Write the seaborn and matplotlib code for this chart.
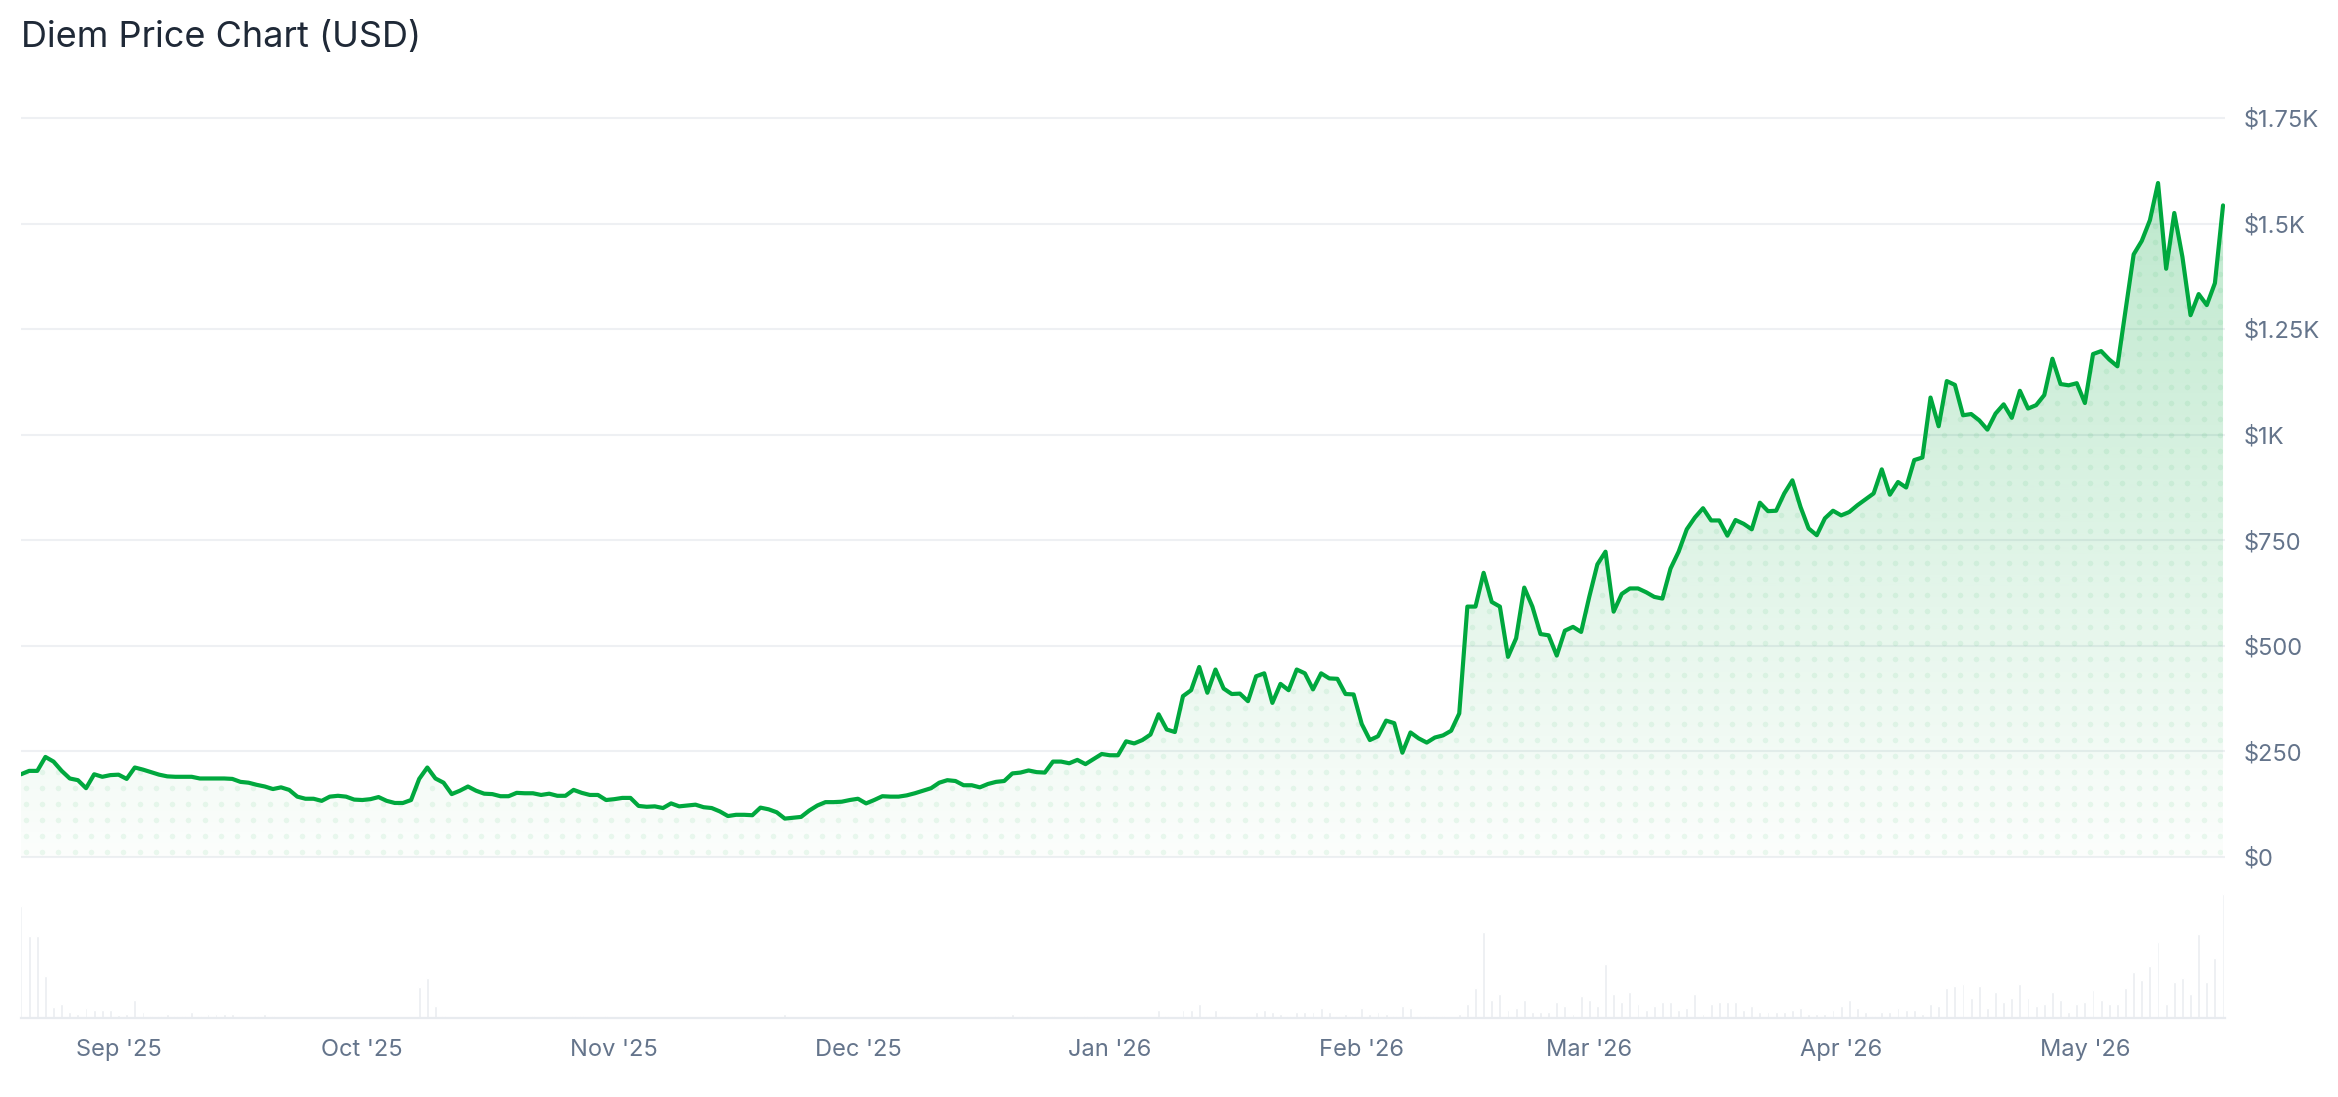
import numpy as np
import pandas as pd
import matplotlib
matplotlib.use("Agg")
import matplotlib.pyplot as plt
import matplotlib.dates as mdates
from matplotlib.colors import to_rgb
from matplotlib.ticker import FuncFormatter
import seaborn as sns

# daily data, starting 20 Aug 2025
start_date = "2025-08-20"

price_aug = [196, 204, 204, 237, 226, 204, 186, 182, 163, 196, 190, 194]
price_sep = [195, 185, 212, 207, 201, 195, 191, 190, 190, 190, 186, 186, 186, 186, 185,
             178, 176, 171, 167, 161, 165, 159, 143, 138, 138, 133, 143, 145, 143, 136]
price_oct = [135, 137, 142, 133, 128, 128, 135, 185, 212, 186, 176, 149, 157, 167, 157, 150,
             149, 144, 144, 152, 151, 151, 147, 150, 145, 145, 159, 152, 147, 147, 135]
price_nov = [137, 140, 140, 121, 119, 120, 116, 127, 120, 122, 124, 118, 116, 108, 97,
             100, 100, 99, 117, 113, 106, 91, 93, 95, 110, 122, 130, 130, 131, 135]
price_dec = [138, 127, 135, 144, 143, 143, 146, 151, 157, 163, 176, 182, 180, 170, 170, 165,
             173, 178, 180, 198, 200, 205, 201, 200, 226, 226, 222, 230, 220, 232, 244]
price_jan = [241, 241, 274, 269, 277, 290, 338, 302, 296, 381, 395, 450, 389, 444, 399, 386,
             387, 369, 428, 435, 365, 410, 395, 444, 435, 397, 435, 423, 422, 386, 385]
price_feb = [315, 277, 286, 323, 317, 247, 295, 281, 271, 283, 288, 299, 340, 593,
             593, 673, 604, 593, 474, 518, 638, 593, 528, 525, 477, 536, 545, 533]
price_mar = [616, 693, 723, 581, 623, 636, 636, 627, 616, 612, 683, 723, 776, 804, 826, 797,
             797, 761, 798, 789, 776, 839, 819, 820, 861, 892, 829, 778, 762, 802, 820]
price_apr = [809, 817, 833, 847, 861, 918, 858, 888, 875, 940, 946, 1088, 1020, 1127, 1118,
             1046, 1049, 1034, 1012, 1050, 1072, 1040, 1104, 1062, 1070, 1094, 1180, 1120, 1117, 1122]
price_may = [1075, 1191, 1198, 1178, 1162, 1295, 1427, 1459, 1508, 1596, 1393, 1525, 1421,
             1283, 1333, 1307, 1359, 1543]

vol_aug = [112, 82, 82, 42, 11, 14, 6, 4, 10, 8, 8, 8]
vol_sep = [3, 4, 18, 6, 2, 2, 4, 2, 2, 6, 2, 4, 4, 4, 4, 2, 0, 2, 4, 2, 0, 0, 0, 0, 0, 0, 0, 0, 0, 0]
vol_oct = [0, 0, 0, 0, 0, 0, 0, 31, 40, 12, 2, 0, 0, 0, 0, 0, 0, 0, 0, 0, 0, 2, 0, 0, 2, 0, 2, 2, 0, 0, 2]
vol_nov = [0] * 21 + [4] + [0] * 8
vol_dec = [0] * 17 + [2, 0, 4, 2, 2, 0, 0, 2, 0, 0, 0, 2, 0, 0]
vol_jan = [0, 0, 0, 0, 0, 0, 8, 2, 0, 8, 8, 14, 2, 8, 2, 2, 0, 2, 6, 8, 6, 4, 2, 6, 6, 6, 10, 6, 2, 4, 2]
vol_feb = [10, 4, 6, 4, 2, 12, 10, 2, 2, 2, 2, 0, 4, 14, 30, 86, 18, 24, 8, 10, 18, 6, 6, 6, 16, 12, 4, 22]
vol_mar = [18, 12, 54, 24, 16, 26, 14, 8, 12, 16, 16, 8, 10, 24, 4, 14, 16, 16, 16, 8,
           12, 6, 6, 6, 6, 8, 10, 4, 4, 4, 8]
vol_apr = [12, 18, 10, 6, 2, 6, 6, 10, 8, 8, 4, 14, 12, 30, 32, 34, 20, 32, 10, 26,
           16, 20, 34, 20, 12, 14, 26, 18, 6, 14]
vol_may = [16, 28, 18, 14, 14, 30, 46, 38, 52, 76, 14, 36, 40, 24, 84, 36, 60, 124]

price = (price_aug + price_sep + price_oct + price_nov + price_dec + price_jan
         + price_feb + price_mar + price_apr + price_may)
volume = (vol_aug + vol_sep + vol_oct + vol_nov + vol_dec + vol_jan
          + vol_feb + vol_mar + vol_apr + vol_may)
dates = pd.date_range(start_date, periods=len(price), freq="D")
df = pd.DataFrame({"date": dates, "price": price, "volume": volume})

price_ticks = [0, 250, 500, 750, 1000, 1250, 1500, 1750]

green = "#00a83e"
label_color = "#64748b"
grid_color = "#eef0f3"

sns.set_style("white")
plt.rcParams["font.family"] = ["Inter", "DejaVu Sans"]

fig = plt.figure(figsize=(23.38, 10.97), dpi=100)
ax = fig.add_axes([0.009, 0.2072, 0.9427, 0.6968])
axv = fig.add_axes([0.009, 0.072, 0.9427, 0.1158], sharex=ax)

# gradient fill under the price line
x0 = mdates.date2num(dates[0])
x1 = mdates.date2num(dates[-1])
poly = ax.fill_between(df["date"], df["price"], 0, facecolor="none", edgecolor="none")
clip = poly.get_paths()[0]
grad = np.linspace(0, 1, 256).reshape(-1, 1)
rgba = np.zeros((256, 1, 4))
rgba[..., :3] = to_rgb(green)
rgba[..., 3] = 0.015 + 0.27 * grad
im = ax.imshow(rgba, extent=[x0, x1, 0, 1750], origin="lower", aspect="auto",
               interpolation="bilinear", zorder=1)
im.set_clip_path(clip, transform=ax.transData)

# dotted texture inside the fill
gx, gy = np.meshgrid(np.arange(x0 + 0.6, x1, 2.0), np.arange(12, 1750, 38))
dots = ax.scatter(gx.ravel(), gy.ravel(), s=16, color=green, alpha=0.07,
                  linewidths=0, zorder=1.5)
dots.set_clip_path(clip, transform=ax.transData)

sns.lineplot(data=df, x="date", y="price", ax=ax, color=green, linewidth=3.0, zorder=3)

x_right = dates[-1] + pd.Timedelta(hours=6)
ax.set_xlim(dates[0], x_right)
ax.set_ylim(-30, 1780)
ax.set_yticks(price_ticks)


def usd(v, pos):
    if v >= 1000:
        return "$" + f"{v / 1000:g}K"
    return "$" + f"{v:g}"


ax.yaxis.set_major_formatter(FuncFormatter(usd))
ax.yaxis.tick_right()
ax.tick_params(axis="y", length=0, pad=13, labelsize=17, labelcolor=label_color)
ax.tick_params(axis="x", bottom=False, labelbottom=False)
ax.grid(axis="y", color=grid_color, linewidth=1.5)
ax.grid(axis="x", visible=False)
ax.set_axisbelow(True)
ax.set_xlabel("")
ax.set_ylabel("")
for s in ax.spines.values():
    s.set_visible(False)

# volume bars
axv.bar(df["date"], df["volume"], width=0.35, color="#eaedf1", align="center")
axv.set_ylim(0, 127)
axv.set_yticks([])
for name, s in axv.spines.items():
    s.set_visible(name == "bottom")
axv.spines["bottom"].set_color("#e8ebef")
axv.spines["bottom"].set_linewidth(1.6)
axv.xaxis.set_major_locator(mdates.MonthLocator())
axv.xaxis.set_major_formatter(mdates.DateFormatter("%b '%y"))
axv.tick_params(axis="x", length=12, width=1.5, color="#e8ebef", pad=3,
                labelsize=17, labelcolor=label_color)
axv.set_xlim(dates[0], x_right)

fig.text(21 / 2338, 1 - 37 / 1097, "Diem Price Chart (USD)", fontsize=26,
         color="#1f2937", ha="left", va="center")

fig.savefig("out.png", dpi=100)
